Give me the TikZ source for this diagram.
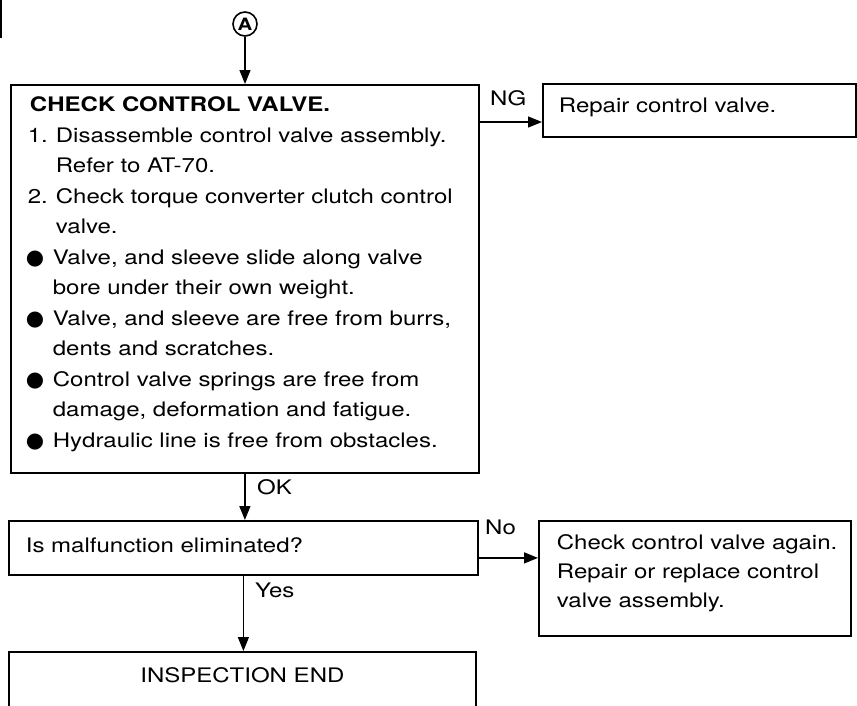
\documentclass[tikz,border=0pt]{standalone}
\usepackage{fontspec}
\setmainfont{TeX Gyre Heros}[FakeStretch=1.2]
\newfontfamily\symfont{DejaVu Sans}
\usetikzlibrary{arrows.meta,positioning}

\newcommand{\blt}{{\symfont\fontsize{21}{21}\selectfont ●}}
\newcommand{\itemno}[1]{\leftskip=45pt\leavevmode\llap{\makebox[28pt][l]{#1}}}
\newcommand{\itemdot}{\leftskip=42pt\leavevmode\llap{\makebox[27pt][l]{\blt}}}

\begin{document}
\begin{tikzpicture}[x=1pt,y=-1pt,
    box/.style={draw,line width=1.8pt,inner sep=0pt,anchor=north west},
    flow/.style={line width=1.4pt,-{Triangle[length=14pt,width=11pt]}},
    lbl/.style={inner sep=0pt,anchor=base west,font=\fontsize{20}{20}\selectfont}]
    \clip (0,0) rectangle (857,705);
    \draw[line width=1.4pt] (1,0) -- (1,38);
    % start connector
    \node[circle,draw,line width=1.6pt,minimum size=24pt,inner sep=0pt,
          font=\bfseries\fontsize{17}{17}\selectfont] (A) at (245,24) {A};
    % check step
    \node[box] (main) at (10,84) {\parbox[c][388pt][t]{468pt}{%
        \fontsize{20}{30.5}\selectfont\leftskip=42pt
        \hspace*{-23pt}\rule{0pt}{27pt}\textbf{CHECK CONTROL VALVE.}\par
        \itemno{1.}Disassemble control valve assembly.\par
        Refer to AT-70.\par
        \itemno{2.}Check torque converter clutch control\par
        valve.\par
        \itemdot Valve, and sleeve slide along valve\par
        bore under their own weight.\par
        \itemdot Valve, and sleeve are free from burrs,\par
        dents and scratches.\par
        \itemdot Control valve springs are free from\par
        damage, deformation and fatigue.\par
        \itemdot Hydraulic line is free from obstacles.\par}};
    \node[box] (repair) at (542,83) {\parbox[c][53pt][t]{313pt}{%
        \fontsize{20}{29}\selectfont\leftskip=16pt
        \rule{0pt}{29pt}Repair control valve.\par}};
    % result check
    \node[box] (elim) at (8,520) {\parbox[c][54pt][t]{469pt}{%
        \fontsize{20}{29}\selectfont\leftskip=17pt
        \rule{0pt}{32pt}Is malfunction eliminated?\par}};
    \node[box] (again) at (538,520) {\parbox[c][115pt][t]{312pt}{%
        \fontsize{20}{29}\selectfont\leftskip=18pt
        \rule{0pt}{29pt}Check control valve again.\par
        Repair or replace control\par
        valve assembly.\par}};
    \node[box] (done) at (8,651) {\parbox[c][80pt][t]{467pt}{%
        \fontsize{20}{29}\selectfont\centering
        \rule{0pt}{31pt}INSPECTION END\par}};
    % connectors
    \draw[flow] (A) -- (A |- main.north);
    \coordinate (ng) at ([yshift=-38pt]main.north east);
    \draw[flow] (ng) -- (ng -| repair.west);
    \draw[flow] (main.south) -- (main.south |- elim.north);
    \coordinate (no) at ([yshift=-10pt]elim.east);
    \draw[flow] (no) -- (no -| again.west);
    \draw[flow] (elim.south) -- (elim.south |- done.north);
    % branch labels
    \node[lbl] (ngtext) at (490,105) {NG};
    \node[lbl] (oktext) at (257,494) {OK};
    \node[lbl] (yestext) at (255,597) {Yes};
    \node[lbl] (notext) at (485,534) {No};
\end{tikzpicture}
\end{document}
